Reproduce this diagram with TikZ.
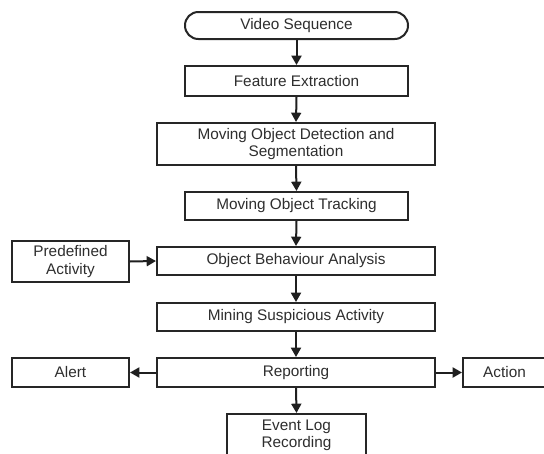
\documentclass[tikz,border=0pt]{standalone}
\usepackage{fontspec}
\setmainfont{Liberation Sans}
\usetikzlibrary{arrows.meta}

\begin{document}
\begin{tikzpicture}[x=0.75pt, y=-0.75pt,
    box/.style={draw=black!85, line width=1.5pt, fill=white, text=black!82,
        align=center, inner sep=0pt, font=\fontsize{11.5}{13}\selectfont},
    flow/.style={draw=black!88, line width=1.5pt,
        -{Triangle[length=7pt,width=7.5pt]}}]
    \useasboundingbox (0,0) rectangle (544,454);
    % Main column
    \node[box, rounded corners=10pt, minimum width=167.25pt, minimum height=20.25pt] (video) at (296.5,25.5) {Video Sequence};
    \node[box, minimum width=167.25pt, minimum height=22.5pt] (feat) at (296.5,81) {Feature Extraction};
    \node[box, minimum width=208.5pt, minimum height=31.5pt] (detect) at (296,144) {Moving Object Detection and\\Segmentation};
    \node[box, minimum width=167.25pt, minimum height=21pt] (track) at (296.5,206) {Moving Object Tracking};
    \node[box, minimum width=208.5pt, minimum height=21pt] (behav) at (296,261) {Object Behaviour Analysis};
    \node[box, minimum width=208.5pt, minimum height=21pt] (mining) at (296,317) {Mining Suspicious Activity};
    \node[box, minimum width=208.5pt, minimum height=21.75pt] (report) at (296,372.5) {Reporting};
    \node[box, minimum width=104.25pt, minimum height=31.5pt] (eventlog) at (296.5,435) {Event Log\\Recording};
    % Side boxes
    \node[box, minimum width=87.75pt, minimum height=30.75pt] (predef) at (70.5,261.5) {Predefined\\Activity};
    \node[box, minimum width=87.75pt, minimum height=21.75pt] (alert) at (70.5,372.5) {Alert};
    \node[box, minimum width=62.25pt, minimum height=21.75pt] (action) at (504.5,372.5) {Action};
    % Arrows
    \draw[flow] (video.south) -- (feat.north);
    \draw[flow] (feat.south) -- (detect.north);
    \draw[flow] (detect.south) -- (track.north);
    \draw[flow] (track.south) -- (behav.north);
    \draw[flow] (behav.south) -- (mining.north);
    \draw[flow] (mining.south) -- (report.north);
    \draw[flow] (report.south) -- (eventlog.north);
    \draw[flow] (predef.east) -- (behav.west);
    \draw[flow] (report.west) -- (alert.east);
    \draw[flow] (report.east) -- (action.west);
\end{tikzpicture}
\end{document}
